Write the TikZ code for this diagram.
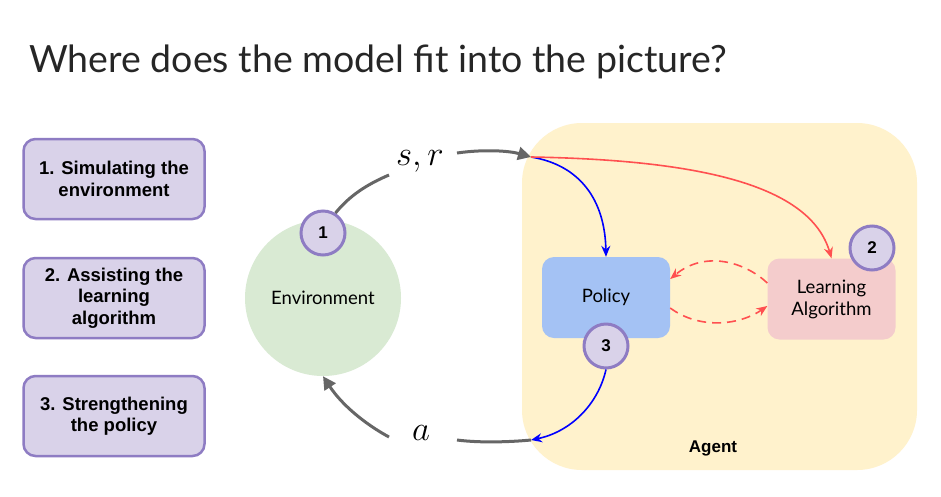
\documentclass[tikz,border=0pt]{standalone}
\usepackage{graphicx}
\usepackage{fontspec}
\setmainfont{Lato}
\newfontfamily\arialf{Liberation Sans}
\usetikzlibrary{arrows.meta}
\definecolor{lav}{HTML}{D9D2E9}
\definecolor{lavb}{HTML}{8E7CC3}
\definecolor{envg}{HTML}{D9EAD3}
\definecolor{agy}{HTML}{FFF2CC}
\definecolor{polb}{HTML}{A4C2F4}
\definecolor{lap}{HTML}{F4CCCC}
\definecolor{gra}{HTML}{666666}
\definecolor{redc}{HTML}{FF5050}
\definecolor{bluec}{HTML}{0000FF}
\tikzset{
  taskbox/.style={draw=lavb, fill=lav, line width=2.5pt, rounded corners=12pt,
    minimum width=181pt, minimum height=80pt, align=center,
    font=\arialf\bfseries\fontsize{18.5}{21.5}\selectfont},
  numc/.style={circle, draw=lavb, fill=lav, line width=3pt, minimum size=44pt, inner sep=0pt,
    font=\arialf\bfseries\fontsize{17}{20}\selectfont},
  inbox/.style={rounded corners=12pt, minimum width=128pt, minimum height=81pt, align=center,
    font=\fontsize{18.5}{22}\selectfont},
  grarrow/.style={draw=gra, line width=3pt},
  bluarrow/.style={draw=bluec, line width=1.6pt, -{Stealth[length=11pt,width=9pt]}},
  redarrow/.style={draw=redc, line width=1.6pt, -{Stealth[length=11pt,width=9pt]}},
  mathlbl/.style={inner sep=0pt, font=\Huge}
}
\begin{document}
\begin{tikzpicture}[x=1pt,y=-1pt]
\useasboundingbox (0,0) rectangle (941,496);
\fill[white] (0,0) rectangle (941,496);
% title
\node[anchor=base west, inner sep=0pt, font=\fontsize{37.5}{44}\selectfont, text=black!85] (title) at (29,72) {Where does the model fit into the picture?};
% left boxes
\node[taskbox] (b1) at (114,179) {1. Simulating the\\environment};
\node[taskbox] (b2) at (114,298) {2. Assisting the\\learning\\algorithm};
\node[taskbox] (b3) at (114,416) {3. Strengthening\\the policy};
% agent area
\node[fill=agy, rounded corners=60pt, minimum width=395pt, minimum height=347pt] (agent) at (719.5,296.5) {};
\node[font=\arialf\bfseries\fontsize{17}{20}\selectfont, inner sep=0pt] (agentlbl) at (713,448) {Agent};
% environment
\node[circle, fill=envg, minimum size=156pt, inner sep=0pt, font=\fontsize{18.5}{22}\selectfont] (env) at (323,298) {Environment};
% policy and learning
\node[inbox, fill=polb] (pol) at (606,297.5) {Policy};
\node[inbox, fill=lap] (la) at (831.5,299) {Learning\\Algorithm};
% number circles
\node[numc] (c1) at (323,233) {1};
\node[numc] (c2) at (872,248) {2};
\node[numc] (c3) at (606,346) {3};
% labels
\node[mathlbl] (sr) at (420,161) {\scalebox{1.4}{$s,r$}};
\node[mathlbl] (al) at (421,433) {\scalebox{1.4}{$a$}};
% coordinates
\coordinate (g2) at (389,175);
\coordinate (g3) at (457,153);
\coordinate (ain) at (531,157);
\coordinate (g4) at (389,437);
\coordinate (g5) at (457,440);
\coordinate (aout) at (531,440);
% gray arrows
\draw[grarrow] (c1.58) .. controls (350,195) and (368,184) .. (g2);
\draw[grarrow, -{Triangle[length=13pt,width=13pt]}] (g3) .. controls (485,149) and (510,151) .. (ain);
\draw[grarrow, -{Triangle[length=13pt,width=13pt]}] (g4) .. controls (365,424) and (342,405) .. (env.south);
\draw[grarrow] (g5) .. controls (480,443) and (510,442) .. (aout);
% blue arrows
\draw[bluarrow] (ain) .. controls (580,165) and (605,200) .. (pol.north);
\draw[bluarrow] (c3.south) .. controls (598,405) and (570,432) .. (aout);
% red arrow
\draw[redarrow] (ain) .. controls (700,160) and (810,185) .. (la.north);
% dashed red
\draw[redarrow, dash pattern=on 9pt off 6pt] (la.west |- 0,283) .. controls (745,262) and (705,250) .. (pol.east |- 0,279);
\draw[redarrow, dash pattern=on 9pt off 6pt] (pol.east |- 0,308) .. controls (700,330) and (740,325) .. (la.west |- 0,306);
\end{tikzpicture}
\end{document}
